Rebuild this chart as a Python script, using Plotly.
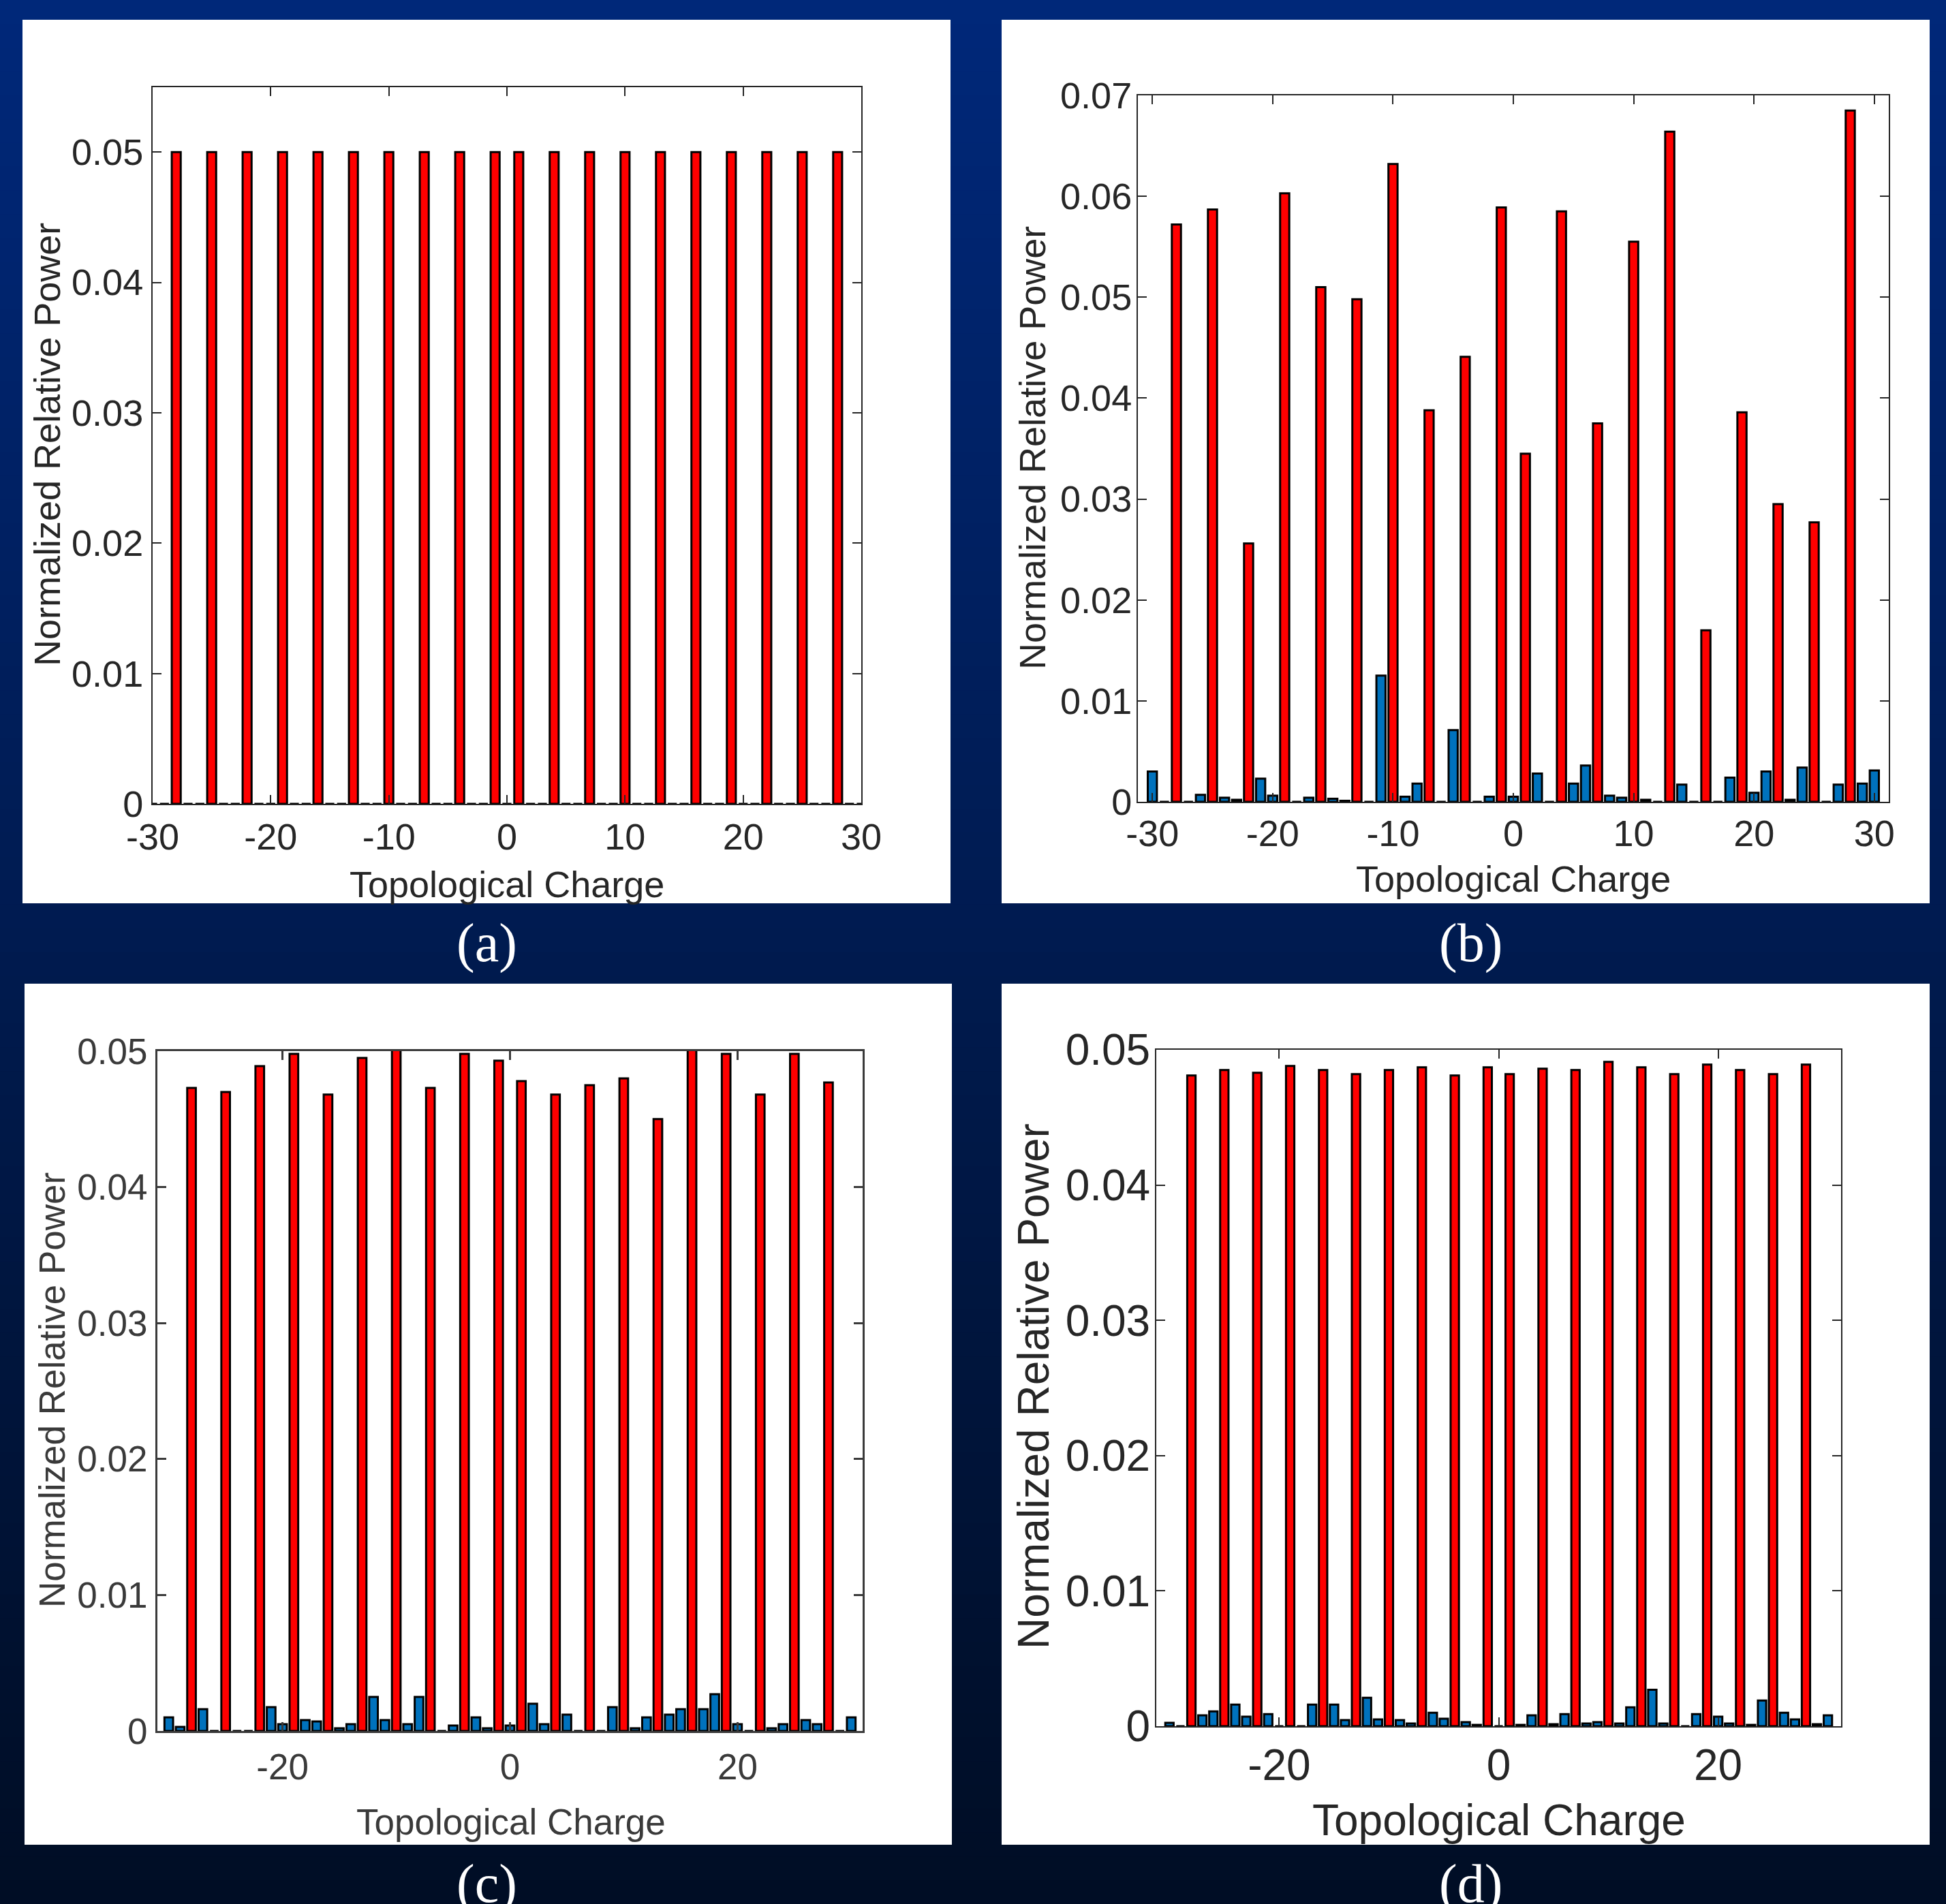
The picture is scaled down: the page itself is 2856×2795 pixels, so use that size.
import plotly.graph_objects as go

W, H = 2856, 2795

# ---------------- data ----------------
charge = list(range(-30, 31))
signal_modes = [-28, -25, -22, -19, -16, -13, -10, -7, -4, -1,
                1, 4, 7, 10, 13, 16, 19, 22, 25, 28]

power_a = [
    0, 0, 0.05, 0, 0, 0.05, 0, 0, 0.05, 0, 0, 0.05, 0, 0, 0.05,          # -30 .. -16
    0, 0, 0.05, 0, 0, 0.05, 0, 0, 0.05, 0, 0, 0.05, 0, 0, 0.05,          # -15 .. -1
    0, 0.05, 0, 0, 0.05, 0, 0, 0.05, 0, 0, 0.05, 0, 0, 0.05, 0,          # 0 .. 14
    0, 0.05, 0, 0, 0.05, 0, 0, 0.05, 0, 0, 0.05, 0, 0, 0.05, 0, 0,       # 15 .. 30
]
power_b = [
    0.0030, 0, 0.0572, 0, 0.0007, 0.0587, 0.0004, 0.0002, 0.0256, 0.0023, 0.0006, 0.0603, 0, 0.0004, 0.0510,
    0.0003, 0.0001, 0.0498, 0, 0.0125, 0.0632, 0.0005, 0.0018, 0.0388, 0, 0.0071, 0.0441, 0, 0.0005, 0.0589,
    0.0005, 0.0345, 0.0028, 0, 0.0585, 0.0018, 0.0036, 0.0375, 0.0006, 0.0004, 0.0555, 0.0002, 0, 0.0664, 0.0017,
    0, 0.0170, 0, 0.0024, 0.0386, 0.0009, 0.0030, 0.0295, 0.0002, 0.0034, 0.0277, 0, 0.0017, 0.0685, 0.0018, 0.0031,
]
power_c = [
    0.0010, 0.0003, 0.0473, 0.0016, 0, 0.0470, 0, 0, 0.0489, 0.00175, 0.0005, 0.0498, 0.0008, 0.0007, 0.0468,
    0.0002, 0.0005, 0.0495, 0.0025, 0.0008, 0.0505, 0.0005, 0.0025, 0.0473, 0, 0.0004, 0.0498, 0.0010, 0.0002, 0.0493,
    0.0004, 0.0478, 0.0020, 0.0005, 0.0468, 0.0012, 0, 0.0475, 0, 0.00175, 0.0480, 0.0002, 0.0010, 0.0450, 0.0012,
    0.0016, 0.0505, 0.0016, 0.0027, 0.0498, 0.0005, 0, 0.0468, 0.0002, 0.0005, 0.0498, 0.0008, 0.0005, 0.0477, 0, 0.0010,
]
power_d = [
    0.00025, 0, 0.0481, 0.0008, 0.0011, 0.0485, 0.0016, 0.0007, 0.0483, 0.0009, 0, 0.0488, 0, 0.0016, 0.0485,
    0.0016, 0.00045, 0.0482, 0.0021, 0.0005, 0.0485, 0.00045, 0.0002, 0.0487, 0.0010, 0.00055, 0.0481, 0.0003, 0.0001, 0.0487,
    0, 0.0482, 0.0001, 0.0008, 0.0486, 0.00015, 0.0009, 0.0485, 0.0002, 0.0003, 0.0491, 0.0002, 0.0014, 0.0487, 0.0027,
    0.0002, 0.0482, 0, 0.0009, 0.0489, 0.0007, 0.0002, 0.0485, 0.0001, 0.0019, 0.0482, 0.0010, 0.0005, 0.0489, 0.00015, 0.0008,
]

x_ticks_ab = [-30, -20, -10, 0, 10, 20, 30]
x_ticks_cd = [-20, 0, 20]
y_ticks_05 = [0, 0.01, 0.02, 0.03, 0.04, 0.05]
y_ticks_07 = [0, 0.01, 0.02, 0.03, 0.04, 0.05, 0.06, 0.07]
y_text_05 = ["0", "0.01", "0.02", "0.03", "0.04", "0.05"]
y_text_07 = ["0", "0.01", "0.02", "0.03", "0.04", "0.05", "0.06", "0.07"]

x_title = "Topological Charge"
y_title = "Normalized Relative Power"
panel_labels = ["(a)", "(b)", "(c)", "(d)"]

RED = "#FF0000"
BLUE = "#0072BD"
bar_colors = [RED if q in signal_modes else BLUE for q in charge]

# ---------------- layout geometry (pixels) ----------------
panels = [
    dict(power=power_a, ax=(224, 1264, 127.5, 1180), xr=[-30, 30], yr=[0, 0.055],
         xt=x_ticks_ab, yt=y_ticks_05, ytt=y_text_05, fs=54, fc="#262626", lw=2, ysd=1, xsd=0,
         xtitle=(744, 1298), ytitle=(69, 653), box=(33, 1395, 29, 1326), lab=(714, 1384)),
    dict(power=power_b, ax=(1670, 2772, 140, 1177), xr=[-31.2, 31.2], yr=[0, 0.07],
         xt=x_ticks_ab, yt=y_ticks_07, ytt=y_text_07, fs=54, fc="#262626", lw=2, ysd=-4, xsd=-2,
         xtitle=(2221, 1290), ytitle=(1515, 658), box=(1470, 2832, 29, 1326), lab=(2158, 1384)),
    dict(power=power_c, ax=(231, 1266, 1543, 2541), xr=[-31, 31], yr=[0, 0.05],
         xt=x_ticks_cd, yt=y_ticks_05, ytt=y_text_05, fs=53, fc="#3a3a3a", lw=3, ysd=1, xsd=4,
         xtitle=(750, 2674), ytitle=(76, 2041), box=(36, 1397, 1444, 2708), lab=(714, 2765)),
    dict(power=power_d, ax=(1697, 2702, 1541, 2534), xr=[-31.2, 31.2], yr=[0, 0.05],
         xt=x_ticks_cd, yt=y_ticks_05, ytt=y_text_05, fs=64, fc="#262626", lw=2, ysd=-6, xsd=0,
         xtitle=(2200, 2672), ytitle=(1517, 2035), box=(1470, 2832, 1444, 2708), lab=(2158, 2765)),
]

FONT = "Liberation Sans, Arial, sans-serif"


def px(x):
    return x / W


def py(y):
    return 1 - y / H


fig = go.Figure()
layout = dict(width=W, height=H, margin=dict(l=0, r=0, t=0, b=0, autoexpand=False),
              paper_bgcolor="#00174a", plot_bgcolor="rgba(0,0,0,0)",
              showlegend=False)

shapes = []
# background gradient
N = 80
top = (0, 40, 122)
bot = (0, 13, 36)
for k in range(N):
    t = (k + 0.5) / N
    c = tuple(round(top[i] + (bot[i] - top[i]) * t) for i in range(3))
    shapes.append(dict(type="rect", xref="paper", yref="paper", x0=0, x1=1,
                       y0=max(0, 1 - (k + 1) / N - 0.001), y1=1 - k / N,
                       fillcolor="rgb(%d,%d,%d)" % c, line=dict(width=0), layer="below"))

annotations = []
for i, p in enumerate(panels):
    n = "" if i == 0 else str(i + 1)
    xa, ya = "x" + n, "y" + n
    x0, x1, y0, y1 = p["ax"]
    bx0, bx1, by0, by1 = p["box"]
    shapes.append(dict(type="rect", xref="paper", yref="paper",
                       x0=px(bx0), x1=px(bx1), y0=py(by1), y1=py(by0),
                       fillcolor="white", line=dict(width=0), layer="below"))
    fig.add_trace(go.Bar(x=charge, y=p["power"], xaxis=xa, yaxis=ya, width=0.76,
                         marker=dict(color=bar_colors, line=dict(color="black", width=3)),
                         hoverinfo="x+y"))
    common = dict(showgrid=False, zeroline=False, showline=True, mirror="ticks",
                  linecolor=p["fc"], linewidth=p["lw"], ticks="inside", ticklen=13,
                  tickwidth=p["lw"], tickcolor=p["fc"], automargin=False,
                  tickfont=dict(family=FONT, size=p["fs"], color=p["fc"]))
    layout["xaxis" + n] = dict(domain=[px(x0), px(x1)], range=p["xr"], anchor=ya,
                               tickvals=p["xt"], ticktext=[str(v) for v in p["xt"]],
                               ticklabelstandoff=p["xsd"], **common)
    layout["yaxis" + n] = dict(domain=[py(y1), py(y0)], range=p["yr"], anchor=xa,
                               tickvals=p["yt"], ticktext=p["ytt"],
                               ticklabelstandoff=p["ysd"], **common)
    tx, ty = p["xtitle"]
    annotations.append(dict(xref="paper", yref="paper", x=px(tx), y=py(ty), text=x_title,
                            showarrow=False, xanchor="center", yanchor="middle",
                            font=dict(family=FONT, size=p["fs"], color=p["fc"])))
    tx, ty = p["ytitle"]
    annotations.append(dict(xref="paper", yref="paper", x=px(tx), y=py(ty), text=y_title,
                            showarrow=False, xanchor="center", yanchor="middle", textangle=-90,
                            font=dict(family=FONT, size=p["fs"], color=p["fc"])))
    lx, ly = p["lab"]
    annotations.append(dict(xref="paper", yref="paper", x=px(lx), y=py(ly), text=panel_labels[i],
                            showarrow=False, xanchor="center", yanchor="middle",
                            font=dict(family="Liberation Serif, Times New Roman, serif",
                                      size=80, color="white")))

layout["shapes"] = shapes
layout["annotations"] = annotations
fig.update_layout(**layout)
fig.write_html("out.html")
